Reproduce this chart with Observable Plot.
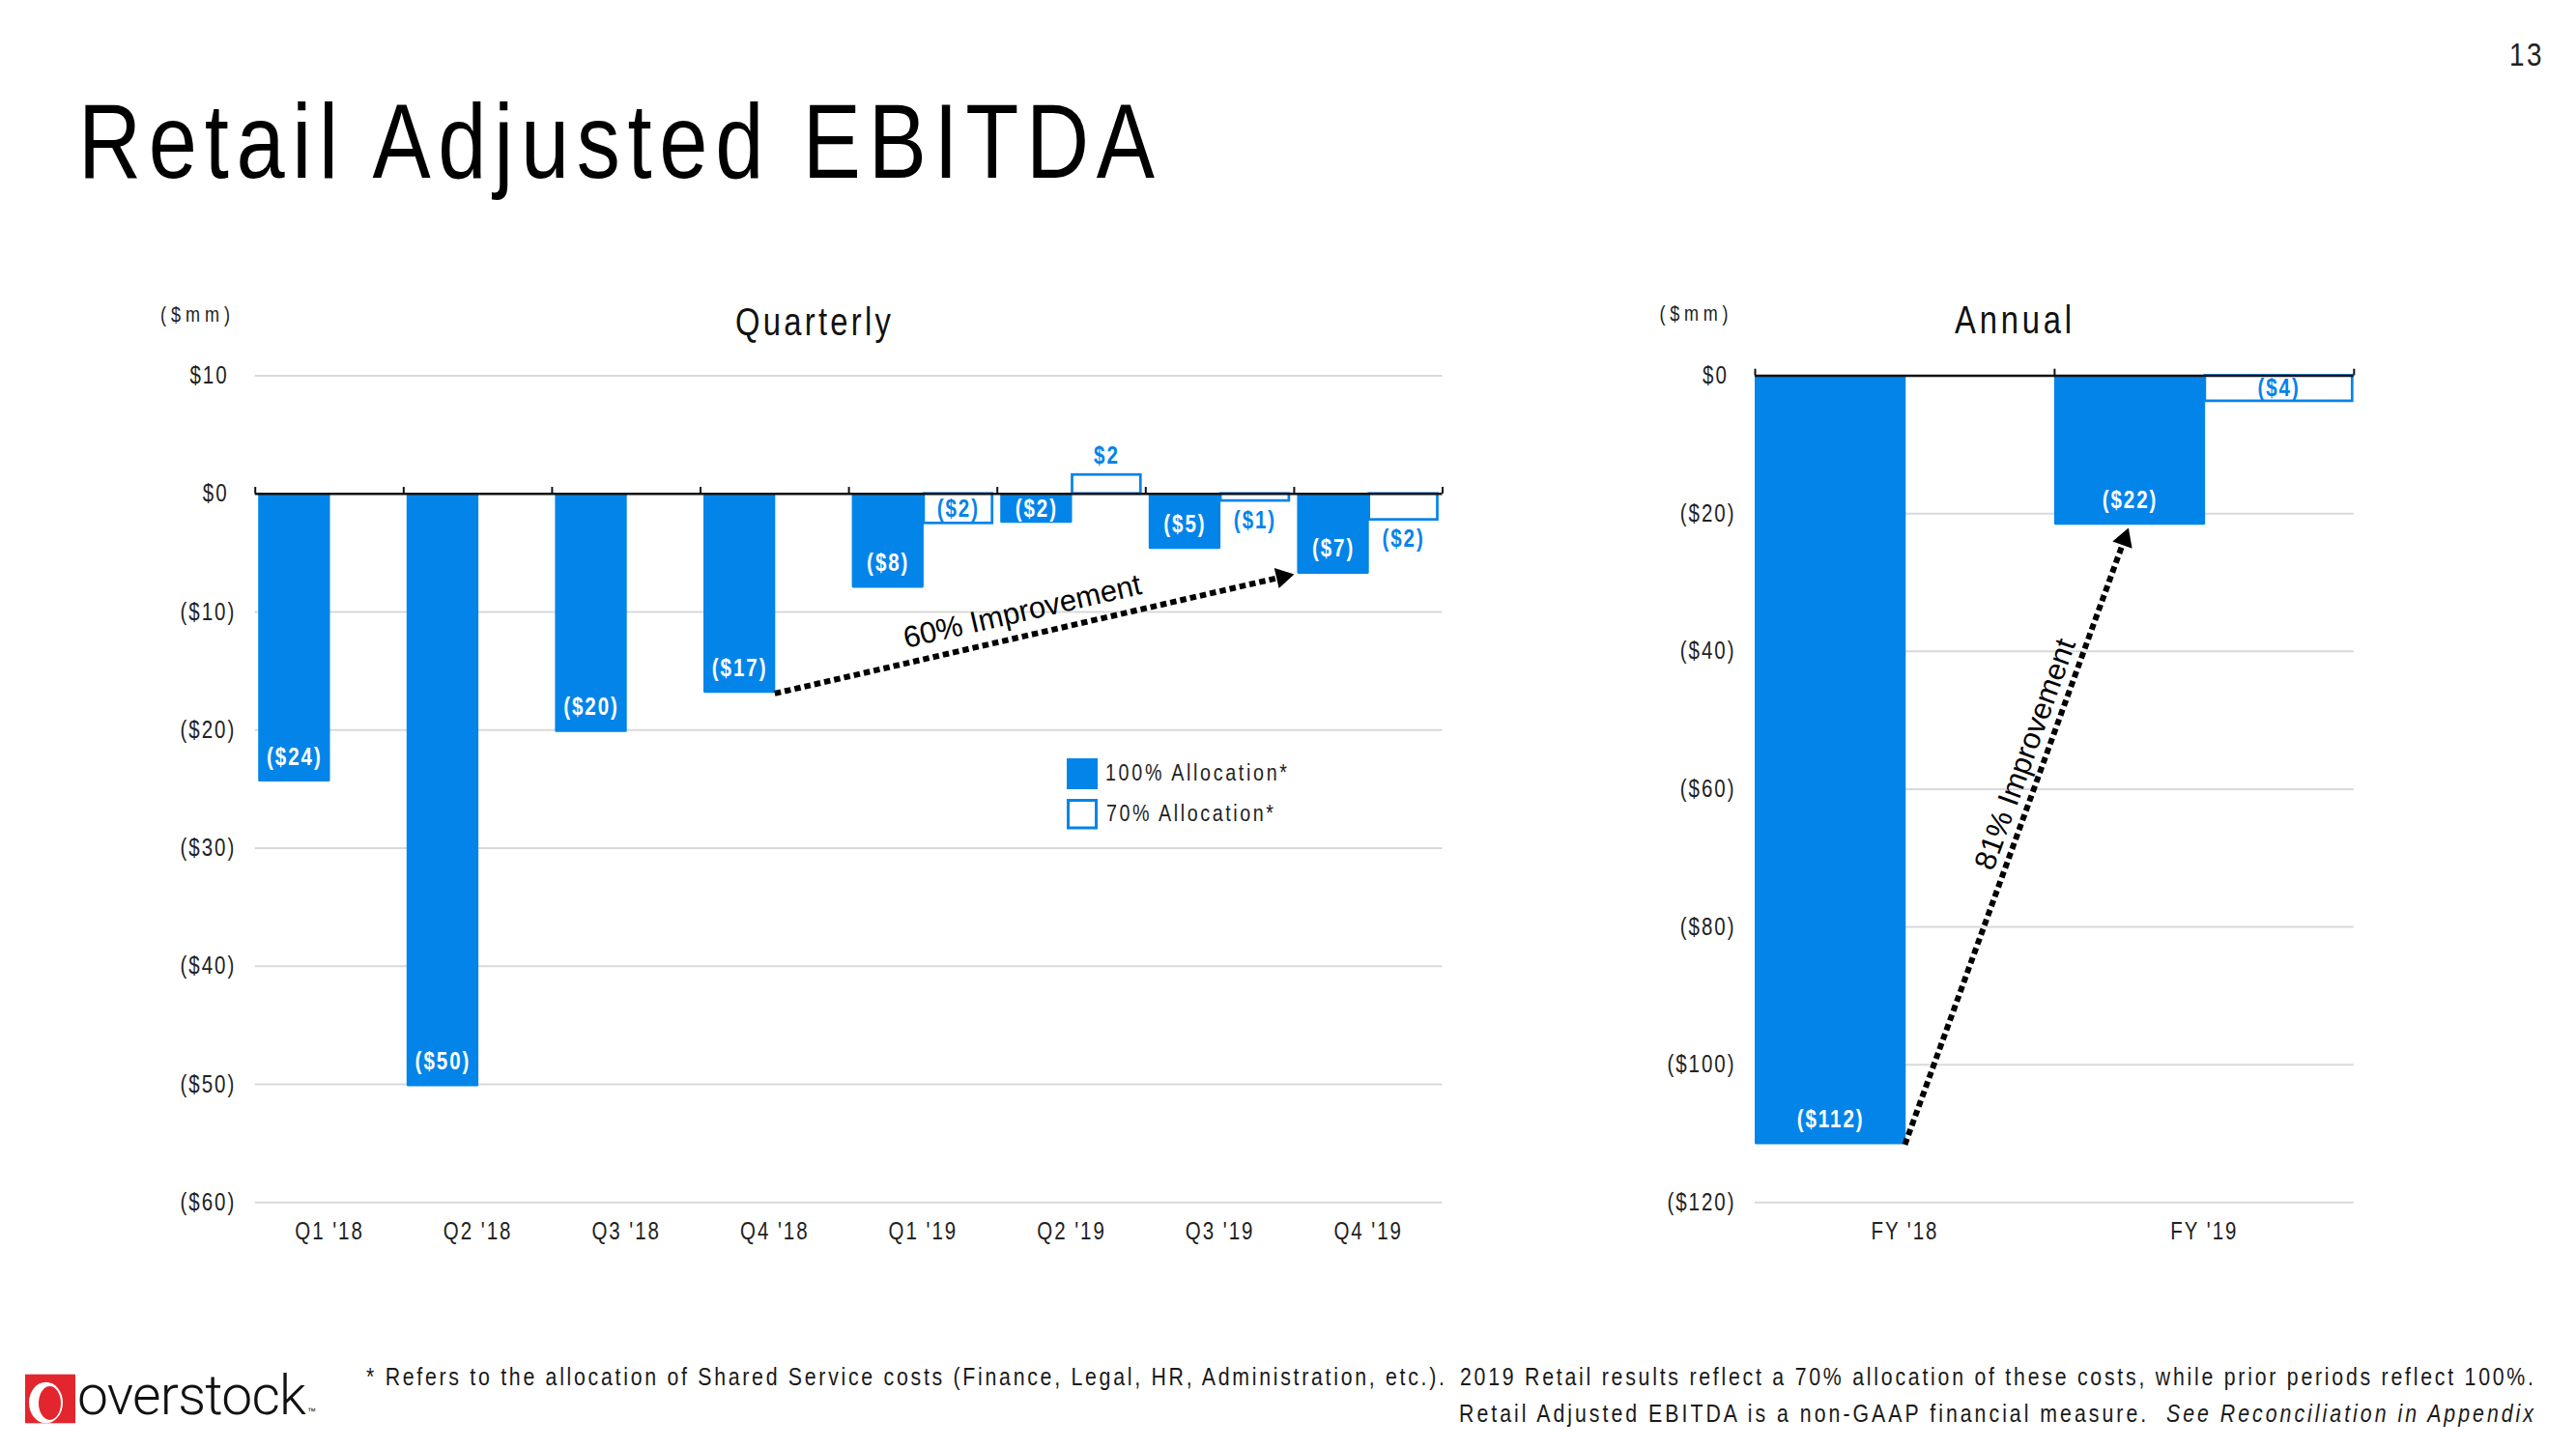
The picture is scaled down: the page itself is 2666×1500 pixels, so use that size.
<!DOCTYPE html>
<html>
<head>
<meta charset="utf-8">
<script src="https://cdn.jsdelivr.net/npm/d3@7"></script>
<script src="https://cdn.jsdelivr.net/npm/@observablehq/plot@0.6"></script>
<style>
  html, body { margin: 0; padding: 0; background: #fff; }
  #page { position: relative; width: 2666px; height: 1500px; overflow: hidden; background: #fff; }
  #page .chart { position: absolute; }
  svg [aria-description="improvement"] text { letter-spacing: 0; }
</style>
</head>
<body>
<div id="page"></div>
<script>
// ---------------- DATA ----------------
const quarters = ["Q1 '18", "Q2 '18", "Q3 '18", "Q4 '18", "Q1 '19", "Q2 '19", "Q3 '19", "Q4 '19"];
const quarterly100 = [-24.4, -50.2, -20.2, -16.9, -8.0, -2.5, -4.7, -6.8];
const quarterly70 = [null, null, null, null, -2.5, 1.6, -0.6, -2.2];
const quarterlyTicks = [10, 0, -10, -20, -30, -40, -50, -60];

const years = ["FY '18", "FY '19"];
const annual100 = [-111.6, -21.7];
const annual70 = [null, -3.7];
const annualTicks = [0, -20, -40, -60, -80, -100, -120];

const seriesNames = ["100% Allocation*", "70% Allocation*"];
const quarterlyArrow = { from: "Q4 '18", to: "Q4 '19", label: "60% Improvement" };
const annualArrow = { from: "FY '18", to: "FY '19", label: "81% Improvement" };

const titleText = "Retail Adjusted EBITDA";
const pageNumber = "13";
const footA = "* Refers to the allocation of Shared Service costs (Finance, Legal, HR, Administration, etc.).";
const footB = "2019 Retail results reflect a 70% allocation of these costs, while prior periods reflect 100%.";
const footC1 = "Retail Adjusted EBITDA is a non-GAAP financial measure.\u00a0\u00a0";
const footC2 = "See Reconciliation in Appendix";

// ---------------- STYLE ----------------
const SANS = '"Liberation Sans", Arial, sans-serif';
const NARROW_S = 0.82;           // horizontal squeeze that turns Arial metrics into Arial Narrow
const BLUE = "#0384E8";
const GRID = "#d9d9d9";
const INK = "#111";

const fmtAxis = v => v < 0 ? `($${-v})` : `$${v}\u00a0`;
const fmtLabel = v => { const r = Math.round(v); return r < 0 ? `($${-r})` : `$${r}`; };

function narrowTexts(svg, S) {
  d3.select(svg).selectAll("text").each(function () {
    if (this.closest('[aria-description="improvement"]')) return;
    const tr = this.getAttribute("transform") || "";
    this.setAttribute("transform", `${tr} scale(${S},1)`);
  });
}

function buildChart(cfg) {
  const { cats, v100, v70, ticks, yDomain, L, in100, in70, tickLen, arrow, insideHollow } = cfg;
  const n = cats.length;
  const plotW = L.width - L.mL - L.mR, plotH = L.height - L.mT - L.mB;
  const ppu = plotH / (yDomain[1] - yDomain[0]);
  const px = x => L.mL + x / n * plotW;
  const py = y => L.mT + (yDomain[1] - y) * ppu;

  const rows100 = cats.map((c, i) => ({ cat: c, i, v: v100[i] })).filter(d => d.v != null);
  const rows70 = cats.map((c, i) => ({ cat: c, i, v: v70[i] })).filter(d => d.v != null);

  const label100Y = d => Math.abs(d.v) * ppu < 52 ? d.v / 2 : d.v - Math.sign(d.v) * 26 / ppu;
  const label70Y = d => insideHollow.includes(d.cat) ? d.v / 2 : d.v + Math.sign(d.v) * 20 / ppu;

  const ia = cats.indexOf(arrow.from), ib = cats.indexOf(arrow.to);
  const seg = { x1: ia + arrow.fromPos, y1: v100[ia], x2: ib + arrow.toPos, y2: v100[ib] };
  const ang = Math.atan2(py(seg.y2) - py(seg.y1), px(seg.x2) - px(seg.x1));
  const deg = ang * 180 / Math.PI;
  const headR = 8;
  const tipDist = 2 * headR * Math.sqrt(Math.PI / (3 * Math.sqrt(3)));
  const back = tipDist + arrow.gap;

  const svg = Plot.plot({
    width: L.width,
    height: L.height,
    marginLeft: L.mL, marginRight: L.mR, marginTop: L.mT, marginBottom: L.mB,
    x: { type: "linear", domain: [0, n] },
    y: { type: "linear", domain: yDomain },
    style: {
      fontFamily: SANS, fontSize: "25px", letterSpacing: "2.4px", color: "#222",
      background: "none", overflow: "visible", maxWidth: "none"
    },
    marks: [
      Plot.ruleY(ticks.filter(t => t !== 0), { stroke: GRID, strokeWidth: 2 }),
      Plot.rect(rows100, {
        x1: d => d.i, x2: d => d.i + 0.5, y1: 0, y2: d => d.v,
        fill: BLUE, insetLeft: in100.l, insetRight: in100.r, rx: 1.5
      }),
      Plot.rect(rows70, {
        x1: d => d.i + 0.5, x2: d => d.i + 1, y1: 0, y2: d => d.v,
        fill: "white", stroke: BLUE, strokeWidth: 2.7, insetLeft: in70.l, insetRight: in70.r
      }),
      Plot.ruleY([0], { stroke: INK, strokeWidth: 2.5 }),
      Plot.ruleX(d3.range(n + 1), { y1: 0, y2: tickLen, stroke: INK, strokeWidth: 2 }),
      Plot.text(rows100, {
        x: d => d.i + 0.25, y: label100Y, text: d => fmtLabel(d.v),
        fill: "white", fontWeight: "bold", fontSize: 25, dx: (in100.l - in100.r) / 2
      }),
      Plot.text(rows70, {
        x: d => d.i + 0.75, y: label70Y, text: d => fmtLabel(d.v),
        fill: BLUE, fontWeight: "bold", fontSize: 25, dx: (in70.l - in70.r) / 2
      }),
      Plot.arrow([seg], {
        x1: "x1", y1: "y1", x2: "x2", y2: "y2",
        stroke: "#000", strokeWidth: 6, strokeDasharray: "6.5,4", strokeLinecap: "butt",
        headLength: 0, insetEnd: back - 2
      }),
      Plot.dot([seg], {
        x: "x2", y: "y2", symbol: "triangle", r: headR, fill: "#000",
        rotate: deg + 90, dx: -back * Math.cos(ang), dy: -back * Math.sin(ang)
      }),
      Plot.text([seg], {
        x: d => (d.x1 + d.x2) / 2, y: d => (d.y1 + d.y2) / 2, text: () => arrow.label,
        rotate: deg, dx: arrow.dx, dy: arrow.dy, fontSize: 31, fontFamily: SANS,
        fill: "#000", ariaDescription: "improvement"
      }),
      Plot.axisY({ ticks, tickSize: 0, tickPadding: 20, tickFormat: fmtAxis, label: null }),
      Plot.axisX({
        ticks: d3.range(n).map(i => i + 0.5), tickSize: 0, tickPadding: 20,
        tickFormat: d => cats[Math.floor(d)], label: null
      })
    ]
  });
  narrowTexts(svg, NARROW_S);
  const wrap = document.createElement("div");
  wrap.className = "chart";
  wrap.style.left = L.left + "px";
  wrap.style.top = L.top + "px";
  wrap.style.width = L.width + "px";
  wrap.style.height = L.height + "px";
  wrap.appendChild(svg);
  return wrap;
}

const page = document.getElementById("page");

page.appendChild(buildChart({
  cats: quarters, v100: quarterly100, v70: quarterly70, ticks: quarterlyTicks,
  yDomain: [-60, 10],
  L: { left: 0, top: 300, width: 1520, height: 1010, mL: 263.7, mR: 27.5, mT: 88.5, mB: 65.7 },
  in100: { l: 3.5, r: -1 }, in70: { l: 1, r: 5 }, tickLen: 0.55,
  arrow: { ...quarterlyArrow, fromPos: 0.5, toPos: 0, gap: 0, dx: -12.5, dy: -23 },
  insideHollow: ["Q1 '19"]
}));

page.appendChild(buildChart({
  cats: years, v100: annual100, v70: annual70, ticks: annualTicks,
  yDomain: [-120, 0],
  L: { left: 1600, top: 300, width: 860, height: 1010, mL: 216, mR: 24.2, mT: 88.5, mB: 65.7 },
  in100: { l: 0, r: -1.3 }, in70: { l: 1, r: 1.5 }, tickLen: 0.95,
  arrow: { ...annualArrow, fromPos: 0.5, toPos: 0.25, gap: 3, dx: 8.5, dy: -83.5 },
  insideHollow: ["FY '19"]
}));

// ---------------- PAGE TEXT, LEGEND, LOGO ----------------
const ov = d3.create("svg")
  .attr("width", 2666).attr("height", 1500)
  .style("position", "absolute").style("left", "0px").style("top", "0px")
  .style("pointer-events", "none");

function txt(x, y, s, o = {}) {
  const S = o.sx != null ? o.sx : NARROW_S;
  const g = ov.append("g").attr("transform", `translate(${x},${y}) scale(${S},1)`);
  const el = g.append("text").attr("x", 0).attr("y", 0)
    .attr("font-family", o.family || SANS).attr("font-size", o.size || 24)
    .attr("fill", o.fill || INK).attr("text-anchor", o.anchor || "start");
  if (s != null) el.text(s);
  if (o.weight) el.attr("font-weight", o.weight);
  if (o.ls != null) el.style("letter-spacing", o.ls + "px");
  if (o.len) el.attr("textLength", o.len / S).attr("lengthAdjust", "spacing");
  return el;
}

txt(81, 184, titleText, { size: 110, len: 1114, fill: "#000" });
txt(2633, 68, pageNumber, { size: 34, anchor: "end", ls: 3, fill: "#222" });

txt(166, 333, "($mm)", { size: 22, len: 72, fill: "#222" });
txt(761, 347, "Quarterly", { size: 40, len: 161, fill: "#111" });
txt(1717.5, 332, "($mm)", { size: 22, len: 71, fill: "#222" });
txt(2023, 345, "Annual", { size: 40, len: 121, fill: "#111" });

// legend
ov.append("rect").attr("x", 1104).attr("y", 785).attr("width", 32).attr("height", 32).attr("fill", BLUE);
ov.append("rect").attr("x", 1105.5).attr("y", 828.5).attr("width", 29).attr("height", 28.5)
  .attr("fill", "white").attr("stroke", BLUE).attr("stroke-width", 3);
txt(1144, 808, seriesNames[0], { size: 24, len: 188, fill: "#222" });
txt(1145, 850, seriesNames[1], { size: 24, len: 173, fill: "#222" });

// footnotes
txt(379, 1434, footA, { size: 26, len: 1116, fill: "#1a1a1a" });
txt(1511, 1434, footB, { size: 26, len: 1111, fill: "#1a1a1a" });
const fc = txt(1510, 1472, null, { size: 26, len: 1112, fill: "#1a1a1a" });
fc.append("tspan").text(footC1);
fc.append("tspan").attr("font-style", "italic").text(footC2);

// logo
const defs = ov.append("defs");
defs.append("clipPath").attr("id", "logoClip")
  .append("rect").attr("x", 26).attr("y", 1422.7).attr("width", 52).attr("height", 50.6);
const lg = ov.append("g");
lg.append("rect").attr("x", 26).attr("y", 1422.7).attr("width", 52).attr("height", 50.6).attr("fill", "#E3262E");
lg.append("ellipse").attr("cx", 47.5).attr("cy", 1452).attr("rx", 17.5).attr("ry", 21.3)
  .attr("fill", "white").attr("clip-path", "url(#logoClip)");
lg.append("ellipse").attr("cx", 51.5).attr("cy", 1452.5).attr("rx", 11.5).attr("ry", 17.5)
  .attr("fill", "#E3262E").attr("clip-path", "url(#logoClip)");
txt(80, 1464, "overstock", { size: 57, sx: 1, family: "Roboto, 'Liberation Sans', sans-serif", weight: 300, len: 237, fill: "#111" });
txt(318, 1464, "\u2122", { size: 9, sx: 1, fill: "#111" });

page.appendChild(ov.node());
</script>
</body>
</html>
